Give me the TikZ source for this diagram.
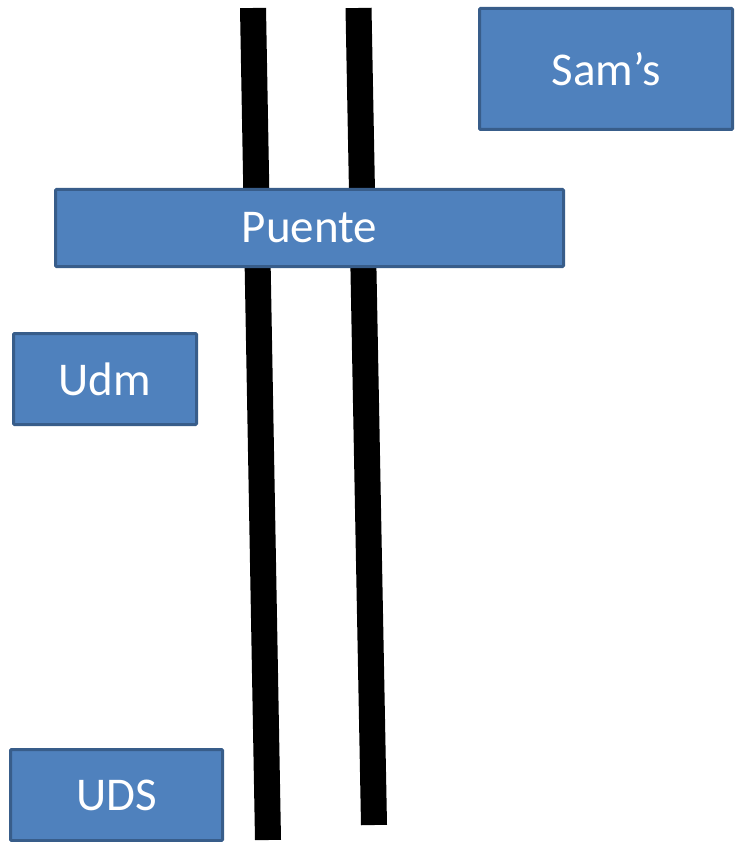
\documentclass[tikz,border=0pt]{standalone}
\usepackage{fontspec}
\setmainfont{Carlito}
\usepackage{xcolor}
\usepackage{tikz}
\usetikzlibrary{positioning,calc}
\definecolor{boxfill}{HTML}{4F81BD}
\definecolor{boxline}{HTML}{385D8A}

\begin{document}
\begin{tikzpicture}[x=1pt, y=-1pt,
    place/.style={draw=boxline, fill=boxfill, line width=3pt, rounded corners=1pt,
        inner sep=0pt, text=white, font=\fontsize{47}{52}\selectfont},
    road/.style={line width=26pt, black}]
    \useasboundingbox (0,0) rectangle (736,842);

    % the two lines (roads), drawn first so the bridge covers them
    \coordinate (r1top) at (253,8);
    \coordinate (r1bot) at (268,840);
    \coordinate (r2top) at (358.5,8);
    \coordinate (r2bot) at (374,825);
    \draw[road] (r1top) -- (r1bot);
    \draw[road] (r2top) -- (r2bot);

    % places
    \node[place, minimum width=253pt, minimum height=121pt] (sams) at (606,69) {Sam’s};
    \node[place, minimum width=508pt, minimum height=77pt] (puente) at (309.5,228) {Puente};
    \node[place, minimum width=183pt, minimum height=91pt] (udm) at (105,379) {Udm};
    \node[place, minimum width=212pt, minimum height=91pt] (uds) at (116.5,795) {UDS};
\end{tikzpicture}
\end{document}
